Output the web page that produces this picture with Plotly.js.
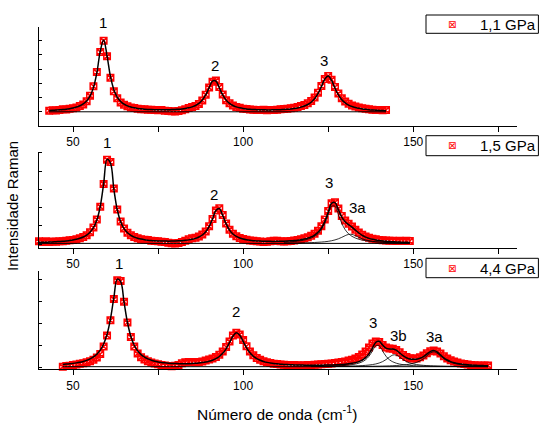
<!DOCTYPE html>
<html>
<head>
<meta charset="utf-8">
<script src="https://cdn.plot.ly/plotly-3.0.1.min.js"></script>
<style>
  html, body { margin: 0; padding: 0; background: #fff; }
  #chart { width: 539px; height: 423px; }
</style>
</head>
<body>
<div id="chart"></div>
<script>
// Raman spectra at three pressures: measured points (red), Lorentzian fit (black),
// fitted components of band 3 and the fit baseline.

function span(a, b) { const out = []; for (let v = a; v <= b; v++) out.push(v); return out; }

// ---- 1,1 GPa ----
const shiftTop = span(43, 142);
const ramanTop = [
  1.07, 1.11, 1.09, 1.12, 1.17, 1.16, 1.22, 1.24, 1.30, 1.40,
  1.52, 1.74, 2.12, 2.80, 3.80, 5.20, 6.00, 4.90, 3.40, 2.45,
  1.95, 1.66, 1.50, 1.39, 1.30, 1.27, 1.22, 1.18, 1.17, 1.14,
  1.15, 1.12, 1.10, 1.12, 1.08, 1.06, 1.03, 1.02, 1.05, 1.10,
  1.18, 1.26, 1.33, 1.40, 1.55, 1.80, 2.20, 2.70, 3.12, 3.20,
  2.75, 2.22, 1.82, 1.60, 1.44, 1.33, 1.28, 1.22, 1.20, 1.16,
  1.15, 1.13, 1.12, 1.14, 1.11, 1.12, 1.13, 1.15, 1.17, 1.19,
  1.22, 1.25, 1.29, 1.34, 1.40, 1.48, 1.60, 1.76, 2.00, 2.34,
  2.82, 3.30, 3.52, 3.25, 2.75, 2.28, 1.95, 1.72, 1.56, 1.45,
  1.37, 1.30, 1.25, 1.21, 1.18, 1.15, 1.13, 1.12, 1.11, 1.12
];
const fitTop = [
  1.092, 1.104, 1.118, 1.135, 1.157, 1.185, 1.220, 1.267, 1.332, 1.424,
  1.558, 1.766, 2.109, 2.700, 3.733, 5.252, 6.059, 4.940, 3.485, 2.558,
  2.034, 1.727, 1.539, 1.417, 1.333, 1.276, 1.236, 1.206, 1.183, 1.167,
  1.156, 1.147, 1.143, 1.141, 1.142, 1.147, 1.153, 1.164, 1.181, 1.203,
  1.236, 1.282, 1.347, 1.445, 1.592, 1.822, 2.183, 2.689, 3.160, 3.160,
  2.689, 2.182, 1.821, 1.591, 1.443, 1.346, 1.280, 1.234, 1.201, 1.178,
  1.161, 1.148, 1.141, 1.137, 1.133, 1.134, 1.137, 1.142, 1.152, 1.163,
  1.179, 1.201, 1.232, 1.272, 1.326, 1.403, 1.513, 1.673, 1.913, 2.271,
  2.770, 3.300, 3.515, 3.204, 2.657, 2.184, 1.850, 1.625, 1.469, 1.367,
  1.297, 1.243, 1.202, 1.171, 1.147, 1.127, 1.112, 1.099, 1.088, 1.079
];
const baseTop = 1.0;

// ---- 1,5 GPa ----
const shiftMid = span(40, 149);
const ramanMid = [
  0.16, 0.12, 0.17, 0.13, 0.15, 0.14, 0.17, 0.16, 0.19, 0.22,
  0.24, 0.27, 0.33, 0.40, 0.50, 0.66, 0.92, 1.35, 2.05, 3.30,
  4.62, 4.50, 3.05, 1.90, 1.24, 0.86, 0.63, 0.49, 0.40, 0.33,
  0.28, 0.25, 0.23, 0.20, 0.18, 0.16, 0.14, 0.12, 0.09, 0.06,
  0.05, 0.07, 0.12, 0.20, 0.28, 0.33, 0.36, 0.42, 0.53, 0.70,
  0.98, 1.38, 1.85, 1.97, 1.60, 1.13, 0.80, 0.58, 0.44, 0.35,
  0.29, 0.25, 0.21, 0.19, 0.17, 0.15, 0.13, 0.14, 0.16, 0.19,
  0.20, 0.17, 0.15, 0.16, 0.18, 0.21, 0.24, 0.28, 0.33, 0.39,
  0.47, 0.58, 0.74, 0.98, 1.35, 1.82, 2.24, 2.30, 1.95, 1.55,
  1.30, 1.12, 0.97, 0.80, 0.65, 0.52, 0.43, 0.36, 0.30, 0.27,
  0.24, 0.22, 0.21, 0.20, 0.19, 0.18, 0.19, 0.18, 0.19, 0.18
];
const fitMid = [
  0.104, 0.110, 0.115, 0.122, 0.130, 0.140, 0.152, 0.166, 0.185, 0.207,
  0.237, 0.275, 0.327, 0.398, 0.502, 0.659, 0.907, 1.328, 2.066, 3.303,
  4.639, 4.440, 3.018, 1.887, 1.230, 0.856, 0.631, 0.490, 0.395, 0.330,
  0.284, 0.250, 0.226, 0.208, 0.194, 0.185, 0.178, 0.174, 0.173, 0.175,
  0.181, 0.189, 0.200, 0.217, 0.241, 0.275, 0.324, 0.397, 0.507, 0.683,
  0.964, 1.385, 1.847, 1.958, 1.580, 1.114, 0.778, 0.566, 0.432, 0.346,
  0.288, 0.248, 0.220, 0.200, 0.185, 0.174, 0.167, 0.162, 0.160, 0.159,
  0.161, 0.164, 0.170, 0.178, 0.189, 0.204, 0.224, 0.250, 0.286, 0.335,
  0.404, 0.504, 0.655, 0.888, 1.248, 1.755, 2.235, 2.279, 1.890, 1.486,
  1.232, 1.078, 0.935, 0.773, 0.617, 0.490, 0.395, 0.325, 0.274, 0.235,
  0.206, 0.183, 0.166, 0.151, 0.139, 0.129, 0.121, 0.114, 0.108, 0.103
];
const shiftMidBand = span(112, 149);
const band3Mid = [
  0.116, 0.125, 0.137, 0.152, 0.172, 0.196, 0.230, 0.275, 0.340, 0.434,
  0.576, 0.797, 1.142, 1.626, 2.076, 2.076, 1.626, 1.142, 0.797, 0.576,
  0.434, 0.340, 0.275, 0.230, 0.196, 0.172, 0.152, 0.137, 0.125, 0.116,
  0.108, 0.101, 0.095, 0.091, 0.087, 0.083, 0.080, 0.078
];
const band3aMid = [
  0.066, 0.067, 0.069, 0.072, 0.074, 0.078, 0.082, 0.086, 0.092, 0.100,
  0.110, 0.123, 0.139, 0.162, 0.194, 0.239, 0.300, 0.381, 0.472, 0.540,
  0.540, 0.472, 0.381, 0.300, 0.239, 0.194, 0.162, 0.139, 0.123, 0.110,
  0.100, 0.092, 0.086, 0.082, 0.078, 0.074, 0.072, 0.069
];
const baseMid = 0.05;

// ---- 4,4 GPa ----
const shiftBot = span(47, 172);
const ramanBot = [
  0.02, 0.05, 0.06, 0.10, 0.12, 0.15, 0.18, 0.22, 0.27, 0.34,
  0.44, 0.60, 0.95, 1.45, 2.15, 3.12, 3.98, 3.95, 3.00, 2.05,
  1.38, 0.95, 0.62, 0.45, 0.35, 0.27, 0.21, 0.17, 0.13, 0.10,
  0.08, 0.05, 0.04, 0.06, 0.10, 0.18, 0.22, 0.24, 0.23, 0.22,
  0.24, 0.26, 0.30, 0.35, 0.40, 0.47, 0.57, 0.72, 0.92, 1.18,
  1.45, 1.58, 1.50, 1.25, 0.96, 0.72, 0.55, 0.42, 0.34, 0.27,
  0.22, 0.19, 0.16, 0.14, 0.12, 0.11, 0.10, 0.09, 0.10, 0.09,
  0.08, 0.09, 0.10, 0.09, 0.11, 0.12, 0.13, 0.14, 0.15, 0.17,
  0.19, 0.21, 0.23, 0.26, 0.30, 0.34, 0.40, 0.47, 0.58, 0.72,
  0.90, 1.08, 1.17, 1.15, 1.02, 0.90, 0.86, 0.84, 0.79, 0.68,
  0.56, 0.47, 0.41, 0.39, 0.40, 0.45, 0.53, 0.64, 0.73, 0.76,
  0.72, 0.62, 0.50, 0.40, 0.32, 0.26, 0.21, 0.17, 0.14, 0.12,
  0.10, 0.09, 0.08, 0.08, 0.07, 0.07
];
const fitBot = [
  0.125, 0.138, 0.153, 0.172, 0.195, 0.225, 0.262, 0.311, 0.376, 0.466,
  0.593, 0.779, 1.063, 1.509, 2.207, 3.184, 4.036, 3.920, 2.978, 2.047,
  1.408, 1.003, 0.744, 0.574, 0.458, 0.376, 0.317, 0.273, 0.240, 0.215,
  0.196, 0.181, 0.171, 0.164, 0.159, 0.157, 0.157, 0.160, 0.166, 0.175,
  0.188, 0.207, 0.232, 0.268, 0.317, 0.387, 0.487, 0.632, 0.841, 1.120,
  1.417, 1.576, 1.465, 1.177, 0.885, 0.660, 0.501, 0.391, 0.314, 0.258,
  0.218, 0.187, 0.164, 0.149, 0.135, 0.124, 0.115, 0.108, 0.102, 0.098,
  0.095, 0.091, 0.090, 0.089, 0.089, 0.089, 0.090, 0.092, 0.095, 0.099,
  0.105, 0.112, 0.121, 0.134, 0.151, 0.174, 0.206, 0.253, 0.323, 0.434,
  0.609, 0.871, 1.142, 1.187, 1.014, 0.870, 0.831, 0.833, 0.779, 0.654,
  0.524, 0.430, 0.376, 0.356, 0.365, 0.406, 0.482, 0.594, 0.713, 0.764,
  0.696, 0.559, 0.427, 0.326, 0.254, 0.204, 0.169, 0.142, 0.123, 0.108,
  0.096, 0.087, 0.079, 0.073, 0.067, 0.063
];
const shiftBotBand = span(120, 172);
const band3Bot = [
  0.035, 0.037, 0.039, 0.041, 0.043, 0.047, 0.051, 0.056, 0.062, 0.070,
  0.080, 0.094, 0.113, 0.140, 0.180, 0.242, 0.340, 0.500, 0.739, 0.978,
  0.978, 0.739, 0.500, 0.340, 0.242, 0.180, 0.140, 0.113, 0.094, 0.080,
  0.070, 0.062, 0.056, 0.051, 0.047, 0.043, 0.041, 0.039, 0.037, 0.035,
  0.034, 0.032, 0.031, 0.030, 0.030, 0.029, 0.028, 0.028, 0.027, 0.027,
  0.026, 0.026, 0.025
];
const band3bBot = [
  0.028, 0.029, 0.030, 0.031, 0.032, 0.033, 0.034, 0.036, 0.038, 0.040,
  0.043, 0.046, 0.050, 0.055, 0.062, 0.070, 0.081, 0.096, 0.117, 0.146,
  0.189, 0.253, 0.345, 0.460, 0.555, 0.555, 0.460, 0.345, 0.253, 0.189,
  0.146, 0.117, 0.096, 0.081, 0.070, 0.062, 0.055, 0.050, 0.046, 0.043,
  0.040, 0.038, 0.036, 0.034, 0.033, 0.032, 0.031, 0.030, 0.029, 0.028,
  0.028, 0.027, 0.027
];
const band3aBot = [
  0.025, 0.026, 0.026, 0.026, 0.027, 0.027, 0.028, 0.028, 0.029, 0.029,
  0.030, 0.031, 0.032, 0.033, 0.034, 0.035, 0.037, 0.039, 0.041, 0.043,
  0.046, 0.050, 0.054, 0.059, 0.065, 0.073, 0.083, 0.096, 0.114, 0.138,
  0.171, 0.218, 0.285, 0.382, 0.509, 0.640, 0.700, 0.640, 0.509, 0.382,
  0.285, 0.218, 0.171, 0.138, 0.114, 0.096, 0.083, 0.073, 0.065, 0.059,
  0.054, 0.050, 0.046
];
const baseBot = 0.02;

const pressureLabels = ['1,1 GPa', '1,5 GPa', '4,4 GPa'];
const peakNames = [
  ['1', '2', '3'],
  ['1', '2', '3', '3a'],
  ['1', '2', '3', '3b', '3a']
];
const xLabelStep = 50;   // labelled ticks: 50, 100, 150
const xMinorStep = 25;   // unlabelled ticks in between

// ---- drawing ----
const W = 539, H = 423;
const px = v => v / W;
const py = v => 1 - v / H;
const FONT = 'Liberation Sans, Arial, sans-serif';

const panels = [
  { x: shiftTop, y: ramanTop, fit: fitTop, base: baseTop, bands: [],
    bandX: null, xa: 'x', ya: 'y' },
  { x: shiftMid, y: ramanMid, fit: fitMid, base: baseMid, bands: [band3Mid, band3aMid],
    bandX: shiftMidBand, xa: 'x2', ya: 'y2' },
  { x: shiftBot, y: ramanBot, fit: fitBot, base: baseBot, bands: [band3Bot, band3bBot, band3aBot],
    bandX: shiftBotBand, xa: 'x3', ya: 'y3' }
];

const traces = [];
panels.forEach(p => {
  traces.push({
    type: 'scatter', mode: 'markers', x: p.x, y: p.y, xaxis: p.xa, yaxis: p.ya,
    marker: { symbol: 'square-x-open', size: 6.5, color: '#ff0000', line: { width: 1.5, color: '#ff0000' } },
    showlegend: false, cliponaxis: false
  });
});
panels.forEach(p => {
  const x0 = p.x[0], x1 = p.x[p.x.length - 1];
  traces.push({
    type: 'scatter', mode: 'lines', x: [x0, x1], y: [p.base, p.base], xaxis: p.xa, yaxis: p.ya,
    line: { color: '#000', width: 1 }, showlegend: false
  });
  p.bands.forEach(b => {
    traces.push({
      type: 'scatter', mode: 'lines', x: p.bandX, y: b, xaxis: p.xa, yaxis: p.ya,
      line: { color: '#000', width: 0.8, shape: 'spline', smoothing: 1 }, showlegend: false
    });
  });
  traces.push({
    type: 'scatter', mode: 'lines', x: p.x, y: p.fit, xaxis: p.xa, yaxis: p.ya,
    line: { color: '#000', width: 1.5, shape: 'spline', smoothing: 1 }, showlegend: false
  });
});

const xDomain = [px(39), px(517)];
function xAxis(anchor) {
  return {
    domain: xDomain, anchor: anchor, range: [40, 180.5],
    tick0: 0, dtick: xLabelStep,
    ticks: 'outside', ticklen: 5, tickwidth: 1, tickcolor: '#000',
    minor: { tick0: 0, dtick: xMinorStep, ticks: 'outside', ticklen: 5, tickwidth: 1,
             tickcolor: '#000', showgrid: false },
    showline: true, linecolor: '#000', linewidth: 1,
    showgrid: false, zeroline: false,
    tickfont: { family: FONT, size: 12, color: '#000' }
  };
}
function yAxis(anchor, top, bottom, range) {
  return {
    domain: [py(bottom), py(top)], anchor: anchor, range: range,
    tick0: 0, dtick: 1, ticks: 'inside', ticklen: 3, tickwidth: 1, tickcolor: '#000',
    showticklabels: false, showline: true, linecolor: '#000', linewidth: 1,
    showgrid: false, zeroline: false
  };
}

// peak label placement: wavenumber and pixel row of each label
const peakLabelPos = [
  [[58.8, 22.5], [91.8, 65], [123.9, 61]],
  [[60.1, 142.5], [91.5, 194], [125.3, 182.7], [133.7, 207.7]],
  [[63.4, 263.5], [98.0, 311.7], [138.2, 322.7], [145.7, 335], [156.2, 336.7]]
];

const annotations = [];
peakNames.forEach((names, i) => {
  names.forEach((n, j) => {
    annotations.push({
      text: n, xref: panels[i].xa, yref: 'paper',
      x: peakLabelPos[i][j][0], y: py(peakLabelPos[i][j][1]),
      showarrow: false, xanchor: 'center', yanchor: 'middle',
      font: { family: FONT, size: 15, color: '#000' }
    });
  });
});

const legendBoxes = [[15, 33.3], [135.7, 155.7], [258.3, 277.7]];
const legendCentres = [24.2, 145.7, 268];
const shapes = legendBoxes.map(b => ({
  type: 'rect', xref: 'paper', yref: 'paper', layer: 'above',
  x0: px(426), x1: px(538.4), y0: py(b[1]), y1: py(b[0]),
  fillcolor: '#fff', line: { color: '#000', width: 1 }
}));
pressureLabels.forEach((t, i) => {
  annotations.push({
    text: '\u22A0', xref: 'paper', yref: 'paper', x: px(451.7), y: py(legendCentres[i]),
    showarrow: false, xanchor: 'center', yanchor: 'middle',
    font: { family: 'DejaVu Sans', size: 10, color: '#ff0000' }
  });
  annotations.push({
    text: t, xref: 'paper', yref: 'paper', x: px(477.5), y: py(legendCentres[i]),
    showarrow: false, xanchor: 'left', yanchor: 'middle',
    font: { family: FONT, size: 15, color: '#000' }
  });
});

annotations.push({
  text: 'Número de onda (cm<sup>-1</sup>)', xref: 'paper', yref: 'paper',
  x: px(277), y: py(413), showarrow: false, xanchor: 'center', yanchor: 'middle',
  font: { family: FONT, size: 15.5, color: '#000' }
});
annotations.push({
  text: 'Intensidade Raman', xref: 'paper', yref: 'paper', textangle: -90,
  x: px(12), y: py(206), showarrow: false, xanchor: 'center', yanchor: 'middle',
  font: { family: FONT, size: 15, color: '#000' }
});

const layout = {
  width: W, height: H,
  margin: { l: 0, r: 0, t: 0, b: 0 },
  paper_bgcolor: '#fff', plot_bgcolor: 'rgba(0,0,0,0)',
  showlegend: false,
  font: { family: FONT, color: '#000' },
  xaxis: xAxis('y'), xaxis2: xAxis('y2'), xaxis3: xAxis('y3'),
  yaxis: yAxis('x', 26.5, 126, [0, 7]),
  yaxis2: yAxis('x2', 151.5, 247.7, [-0.186, 5.07]),
  yaxis3: yAxis('x3', 271, 369.3, [-0.1, 4.41]),
  shapes: shapes,
  annotations: annotations
};

Plotly.newPlot('chart', traces, layout, { staticPlot: true, displayModeBar: false });
</script>
</body>
</html>
